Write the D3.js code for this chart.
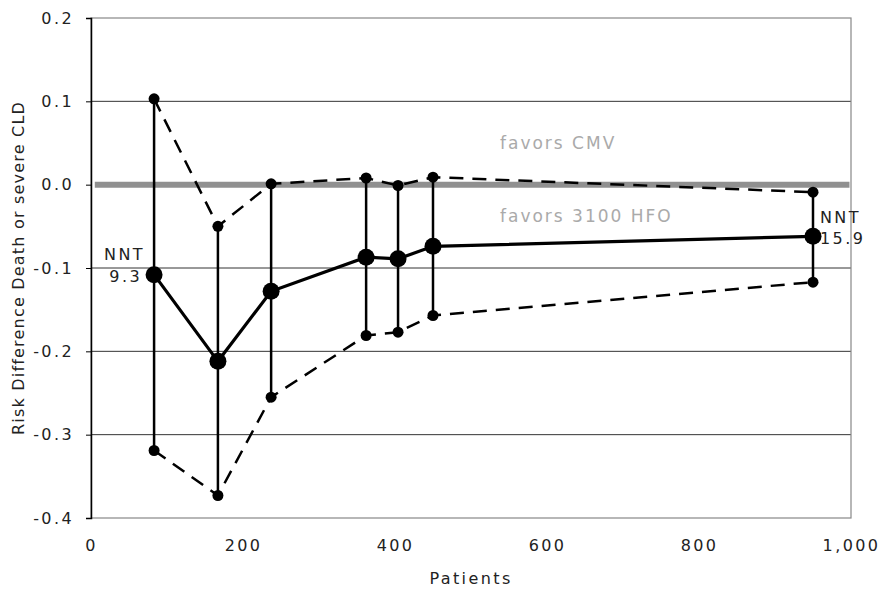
<!DOCTYPE html>
<html>
<head>
<meta charset="utf-8">
<script src="https://cdn.jsdelivr.net/npm/d3@7"></script>
<style>
  body { margin: 0; background: #fff; }
  text { font-family: "DejaVu Sans", sans-serif; font-size: 16px; letter-spacing: 2.4px; }
</style>
</head>
<body>
<div id="chart"></div>
<script>
// trial data
var patients = [83, 167, 237, 362, 404, 450, 950];
var riskDiff = [-0.108, -0.212, -0.128, -0.087, -0.089, -0.074, -0.062];
var upperCI = [0.103, -0.050, 0.001, 0.008, -0.001, 0.009, -0.009];
var lowerCI = [-0.319, -0.373, -0.255, -0.181, -0.177, -0.157, -0.117];
var xTicks = [0, 200, 400, 600, 800, 1000];
var yTicks = [0.2, 0.1, 0.0, -0.1, -0.2, -0.3, -0.4];

var width = 881, height = 589;
var mLeft = 91, mRight = 851, mTop = 18, mBottom = 518;

var svg = d3.select("#chart").append("svg")
  .attr("width", width)
  .attr("height", height);

var x = d3.scaleLinear().domain([0, 1000]).range([mLeft, mRight]);
var y = d3.scaleLinear().domain([-0.4, 0.2]).range([mBottom, mTop]);

/* gridlines */
svg.append("g")
  .selectAll("line")
  .data(yTicks.filter(d => d != 0.2 && d != -0.4 && d != 0))
  .enter().append("line")
  .attr("x1", mLeft).attr("x2", mRight)
  .attr("y1", d => y(d)).attr("y2", d => y(d))
  .attr("stroke", "#333")
  .attr("stroke-width", 1);

/* plot border */
svg.append("rect")
  .attr("x", mLeft).attr("y", y(0.2))
  .attr("width", mRight - mLeft).attr("height", y(-0.4) - y(0.2))
  .attr("fill", "none")
  .attr("stroke", "#888")
  .attr("stroke-width", 1.2);

/* zero reference band */
svg.append("line")
  .attr("x1", x(5)).attr("x2", x(998))
  .attr("y1", y(0)).attr("y2", y(0))
  .attr("stroke", "#909090")
  .attr("stroke-width", 6);

/* axes */
var fmtY = d => d3.format(".1f")(d).replace("\u2212", "-");
var yAxis = d3.axisLeft(y).tickValues(yTicks).tickFormat(fmtY).tickSize(5).tickPadding(12);
var gy = svg.append("g")
  .attr("transform", `translate(${mLeft}, 0)`)
  .call(yAxis);
gy.select(".domain").attr("stroke", "#000").attr("stroke-width", 1.5);
gy.selectAll("text").attr("font-size", 16).attr("fill", "#222").attr("font-family", null);

var xAxis = d3.axisBottom(x).tickValues(xTicks).tickFormat(d3.format(",")).tickSize(0).tickPadding(22);
var gx = svg.append("g")
  .attr("transform", `translate(0, ${mBottom})`)
  .call(xAxis);
gx.select(".domain").remove();
gx.selectAll("text").attr("font-size", 16).attr("fill", "#222").attr("font-family", null);

/* bound lines */
var pts = patients.map((p, i) => ({p: p, m: riskDiff[i], hi: upperCI[i], lo: lowerCI[i]}));

var upLine = d3.line().x(d => x(d.p)).y(d => y(d.hi));
var loLine = d3.line().x(d => x(d.p)).y(d => y(d.lo));
var meanLine = d3.line().x(d => x(d.p)).y(d => y(d.m));

svg.append("path").attr("d", upLine(pts))
  .attr("fill", "none").attr("stroke", "#000")
  .attr("stroke-width", 2.5).attr("stroke-dasharray", "14,9");
svg.append("path").attr("d", loLine(pts))
  .attr("fill", "none").attr("stroke", "#000")
  .attr("stroke-width", 2.5).attr("stroke-dasharray", "14,9");

/* whiskers */
svg.append("g").selectAll("line")
  .data(pts).enter().append("line")
  .attr("x1", d => x(d.p)).attr("x2", d => x(d.p))
  .attr("y1", d => y(d.hi)).attr("y2", d => y(d.lo))
  .attr("stroke", "#000").attr("stroke-width", 2.5);

svg.append("path").attr("d", meanLine(pts))
  .attr("fill", "none").attr("stroke", "#000").attr("stroke-width", 3.2);

/* markers */
svg.append("g").selectAll("circle")
  .data(pts.flatMap(d => [d.hi, d.lo].map(v => ({p: d.p, v: v}))))
  .enter().append("circle")
  .attr("cx", d => x(d.p)).attr("cy", d => y(d.v))
  .attr("r", 5.5).attr("fill", "#000");

svg.append("g").selectAll("circle")
  .data(pts).enter().append("circle")
  .attr("cx", d => x(d.p)).attr("cy", d => y(d.m))
  .attr("r", 8.5).attr("fill", "#000");

/* annotations */
svg.append("text").attr("x", 500).attr("y", 149)
  .style("font-size", "17px").style("letter-spacing", "2px")
  .attr("fill", "#aaa").text("favors CMV");
svg.append("text").attr("x", 500).attr("y", 222)
  .style("font-size", "17px").style("letter-spacing", "2px")
  .attr("fill", "#aaa").text("favors 3100 HFO");

svg.append("text").attr("x", 145).attr("y", 260).attr("text-anchor", "end")
  .attr("fill", "#222").text("NNT");
svg.append("text").attr("x", 142).attr("y", 282).attr("text-anchor", "end")
  .attr("fill", "#222").text("9.3");
svg.append("text").attr("x", 820).attr("y", 223)
  .attr("fill", "#222").text("NNT");
svg.append("text").attr("x", 820).attr("y", 244)
  .attr("fill", "#222").text("15.9");

/* axis titles */
svg.append("text")
  .attr("transform", `translate(24, ${(mTop + mBottom) / 2}) rotate(-90)`)
  .attr("text-anchor", "middle")
  .style("letter-spacing", "1.2px")
  .attr("fill", "#222")
  .text("Risk Difference Death or severe CLD");
svg.append("text")
  .attr("x", (mLeft + mRight) / 2).attr("y", 584)
  .attr("text-anchor", "middle")
  .attr("fill", "#222")
  .text("Patients");
</script>
</body>
</html>
